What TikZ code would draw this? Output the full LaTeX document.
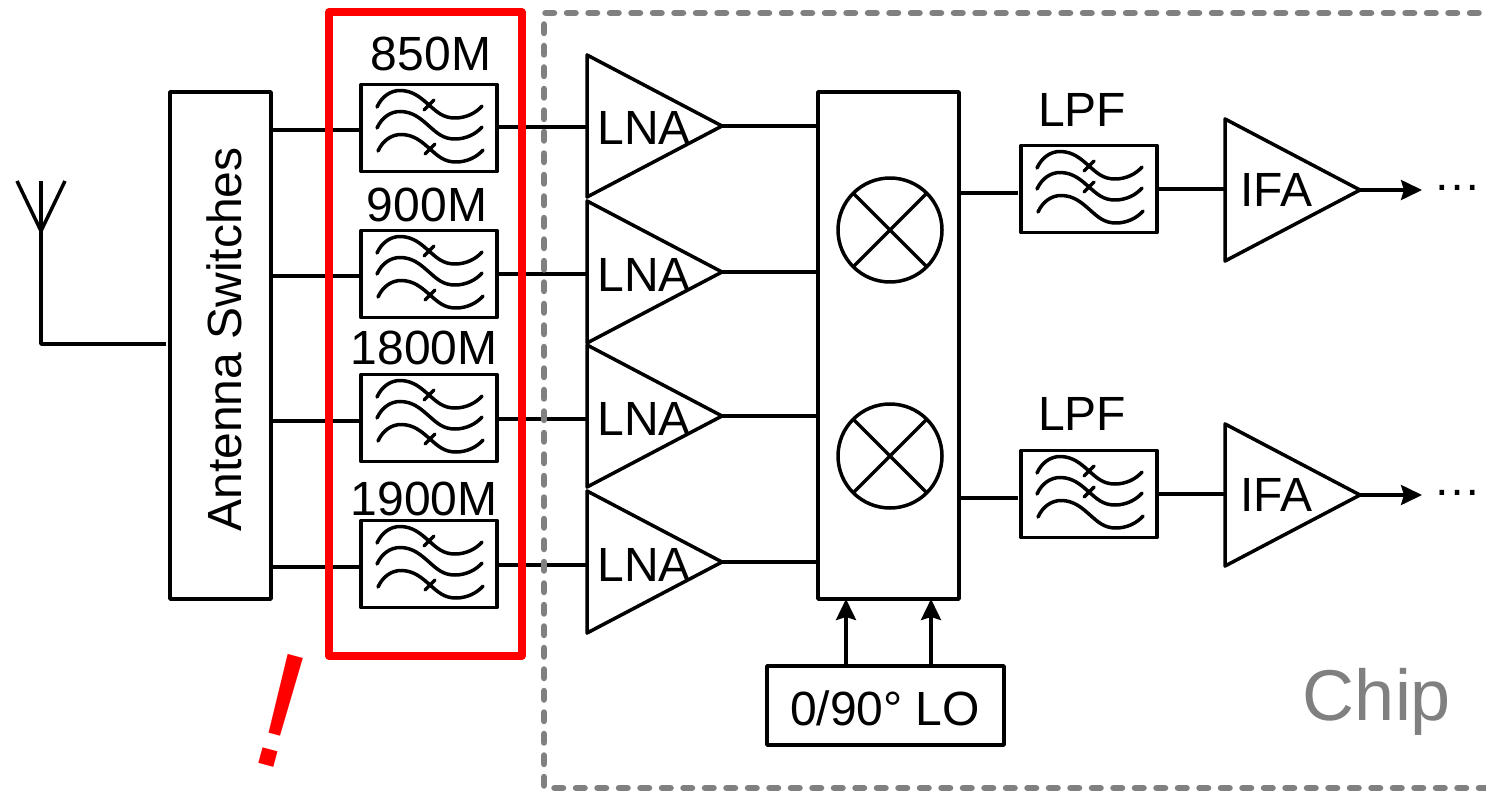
\documentclass[tikz,border=0pt]{standalone}
\usepackage{fontspec}
\setmainfont{Liberation Sans}
\usetikzlibrary{shapes.geometric,arrows.meta}
\newcommand{\diagfont}{\fontsize{24}{26}\selectfont}
\tikzset{
  x=0.5pt,y=-0.5pt,
  every path/.style={line join=round},
  wire/.style={draw=black,line width=1.75pt},
  blockbox/.style={draw=black,line width=1.75pt,inner sep=0pt,outer sep=0pt},
  tag/.style={inner sep=0pt,font=\diagfont,text=black},
  amp/.style={draw=black,line width=1.75pt,shape=isosceles triangle,isosceles triangle apex angle=55.5,
     minimum height=67.5pt,inner sep=0pt,outer sep=0pt,anchor=lower side},
  mix/.style={draw=black,line width=1.75pt,circle,minimum size=52pt,inner sep=0pt,outer sep=0pt},
  arrowed/.style={wire,-{Stealth[length=10.5pt,width=10pt,inset=1.5pt]}},
  wave/.style={draw=black,line width=1.75pt,line cap=round},
}
\newcommand{\wave}[3]{%
  \draw[wave,shift={(#1,#2)}] (-52,-21) .. controls (-47,-32) and (-38,-37.5) .. (-29,-37.5)
     .. controls (-16,-37.5) and (-8,-30) .. (0,-23)
     .. controls (8,-16) and (14,-10) .. (26,-10)
     .. controls (37,-10) and (47,-15) .. (53,-22);
  \ifnum#3=1 \draw[wave,shift={(#1,#2)}] (-5,-18) -- (5,-28);\fi}
% name, x, y, first tick offset of the second curve flag, third curve flag
\newcommand{\filterbox}[5]{%
  \node[blockbox,minimum width=68pt,minimum height=43.5pt] (#1) at (#2,#3) {};
  \wave{#2}{#3}{1}%
  \wave{#2}{#3+21}{#4}%
  \wave{#2+1}{#3+44}{#5}}
\begin{document}
\begin{tikzpicture}
\useasboundingbox (0,0) rectangle (1486,791);

% antenna
\coordinate (ant) at (41,231);
\coordinate (antL) at (17,181);
\coordinate (antR) at (65,181);
\coordinate (antT) at (41,181);
\coordinate (antB) at (41,344);
\coordinate (antE) at (166,344);
\node[blockbox,minimum width=50.5pt,minimum height=253.5pt] (sw) at (220.5,345.5) {};
\node[tag,rotate=90] (swt) at (224,339.5) {Antenna Switches};
\draw[wire] (antT) -- (antB) -- (antE);
\draw[wire] (antL) -- (ant) -- (antR);

% RF filters
\filterbox{f1}{429}{128}{0}{1}
\filterbox{f2}{429}{274}{0}{1}
\filterbox{f3}{429}{418}{0}{1}
\filterbox{f4}{429}{564}{0}{1}
\node[tag] (t1) at (431,54) {850M};
\node[tag] (t2) at (427,205) {900M};
\node[tag] (t3) at (424,348) {1800M};
\node[tag] (t4) at (424,499) {1900M};

% amplifiers
\node[amp] (a1) at (587,126) {};
\node[amp] (a2) at (587,272) {};
\node[amp] (a3) at (587,416) {};
\node[amp] (a4) at (587,562) {};
\node[tag] (l1) at (644,128) {LNA};
\node[tag] (l2) at (644,275) {LNA};
\node[tag] (l3) at (644,419) {LNA};
\node[tag] (l4) at (644,565) {LNA};

% mixer block
\node[blockbox,minimum width=70.5pt,minimum height=253.5pt] (mx) at (888.5,345.5) {};
\node[mix] (c1) at (890,230) {};
\node[mix] (c2) at (890,456) {};
\draw[wire] (c1.45) -- (c1.225) (c1.135) -- (c1.315);
\draw[wire] (c2.45) -- (c2.225) (c2.135) -- (c2.315);
\node[blockbox,minimum width=118.5pt,minimum height=39.5pt] (lo) at (885.5,705.5) {};
\node[tag] (lot) at (885,708) {0/90° LO};

% baseband
\filterbox{p1}{1089}{189}{1}{0}
\filterbox{p2}{1089}{494}{1}{0}
\node[tag] (n1) at (1082,110) {LPF};
\node[tag] (n2) at (1082,414) {LPF};
\node[amp] (i1) at (1225,190) {};
\node[amp] (i2) at (1225,495) {};
\node[tag] (it1) at (1276,190) {IFA};
\node[tag] (it2) at (1276,495) {IFA};
\coordinate (e1) at (1422,190);
\coordinate (e2) at (1422,495);
\node[tag] (d1) at (1457,188) {…};
\node[tag] (d2) at (1457,493) {…};

% connectors
\foreach \n/\a/\b/\c in {1/130/127/126,2/276/274/272,3/421/419/416,4/567/565/562}{
  \draw[wire] (sw.east |- 0,\a) -- (f\n.west |- 0,\a);
  \draw[wire] (f\n.east |- 0,\b) -- (a\n.lower side |- 0,\b);
  \draw[wire] (a\n.apex) -- (mx.west |- a\n.apex);
}
\coordinate (g1) at (1018,193);
\coordinate (g2) at (1018,498);
\draw[wire] (mx.east |- g1) -- (g1);
\draw[wire] (mx.east |- g2) -- (g2);
\draw[wire] (p1.east) -- (i1.lower side |- p1.east);
\draw[wire] (p2.east) -- (i2.lower side |- p2.east);
\draw[arrowed] (i1.apex) -- (e1);
\draw[arrowed] (i2.apex) -- (e2);
\draw[arrowed] (lo.north -| 846,0) -- (mx.south -| 846,0);
\draw[arrowed] (lo.north -| 931,0) -- (mx.south -| 931,0);

% chip outline, filter highlight
\coordinate (chipA) at (1500,13);
\coordinate (chipB) at (544,13);
\coordinate (chipC) at (544,788);
\coordinate (chipD) at (1500,788);
\draw[draw=black!50,line width=3.25pt,line cap=round,dash pattern=on 4.25pt off 6.5pt] (chipA) -- (chipB) -- (chipC) -- (chipD);
\node[inner sep=0pt,draw=red,line width=4pt,minimum width=96.25pt,minimum height=322pt] (hl) at (425.25,334) {};
\node[inner sep=0pt,text=red,font=\fontsize{82}{82}\selectfont,rotate=-15] (bang) at (281,711) {!};
\node[inner sep=0pt,text=black!50,font=\fontsize{36}{38}\selectfont] (chip) at (1377,702) {Chip};
\end{tikzpicture}
\end{document}
